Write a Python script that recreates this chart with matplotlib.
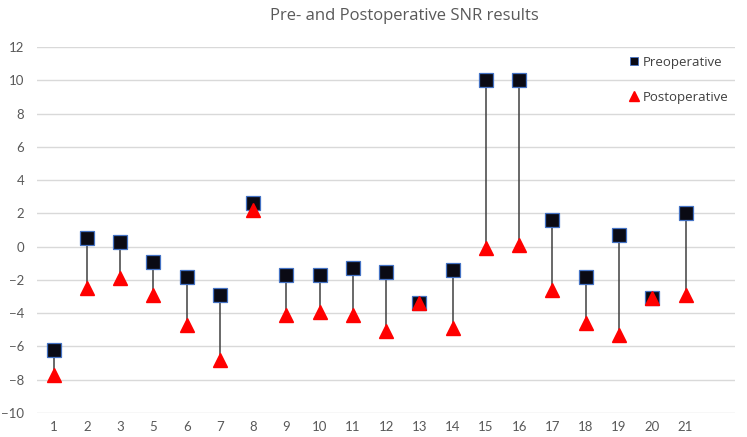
import numpy as np
import matplotlib.pyplot as plt
from matplotlib.lines import Line2D

plt.rcParams['font.family'] = ['Lato', 'DejaVu Sans']

patients = ['1', '2', '3', '5', '6', '7', '8', '9', '10', '11', '12',
            '13', '14', '15', '16', '17', '18', '19', '20', '21']
pre = [-6.2, 0.5, 0.3, -0.9, -1.8, -2.9, 2.6, -1.7, -1.7, -1.3, -1.5,
       -3.4, -1.4, 10.0, 10.0, 1.6, -1.8, 0.7, -3.1, 2.0]
post = [-7.7, -2.5, -1.9, -2.9, -4.7, -6.8, 2.2, -4.1, -3.9, -4.1, -5.1,
        -3.4, -4.9, -0.1, 0.1, -2.6, -4.6, -5.3, -3.1, -2.9]

x = np.arange(len(patients))

fig = plt.figure(figsize=(7.47, 4.37), dpi=100)
ax = fig.add_axes([0.0495, 0.055, 0.935, 0.837])

ax.vlines(x, post, pre, color='#404040', linewidth=1.1, zorder=2)
ax.plot(x, pre, linestyle='none', marker='s', markersize=10,
        markerfacecolor='#0a0a14', markeredgecolor='#4472c4', markeredgewidth=0.9, zorder=3)
ax.plot(x, post, linestyle='none', marker='^', markersize=10,
        markerfacecolor='#ff0000', markeredgecolor='#ff0000', zorder=4)

# one empty slot on the right, like the original sheet
ax.set_xlim(-0.5, len(patients) + 0.5)
ax.set_ylim(-10, 12)
ax.set_yticks(np.arange(-10, 13, 2))
ax.set_xticks(x)
ax.set_xticklabels(patients)
ax.grid(axis='y', color='#d9d9d9', linewidth=1)
ax.set_axisbelow(True)
for s in ax.spines.values():
    s.set_visible(False)
ax.tick_params(length=0, colors='#595959', labelsize=9.5)
ax.tick_params(axis='y', pad=9)
ax.tick_params(axis='x', pad=6)

fig.suptitle('Pre- and Postoperative SNR results', x=0.542, y=0.982,
             fontsize=12, color='#595959', family=['Open Sans', 'DejaVu Sans'])

handles = [Line2D([], [], linestyle='none', marker='s', markersize=6,
                  markerfacecolor='#0a0a14', markeredgecolor='#4472c4', markeredgewidth=0.6),
           Line2D([], [], linestyle='none', marker='^', markersize=7,
                  markerfacecolor='#ff0000', markeredgecolor='#ff0000')]
leg = ax.legend(handles, ['Preoperative', 'Postoperative'], loc='upper left',
                bbox_to_anchor=(614 / 747, 1 - 44 / 437), bbox_transform=fig.transFigure,
                frameon=False, prop={'family': ['Open Sans', 'DejaVu Sans'], 'size': 9.5},
                labelspacing=1.65, handletextpad=0.1, handlelength=1.2)
for t in leg.get_texts():
    t.set_color('#404040')

fig.savefig('out.png', dpi=100)
